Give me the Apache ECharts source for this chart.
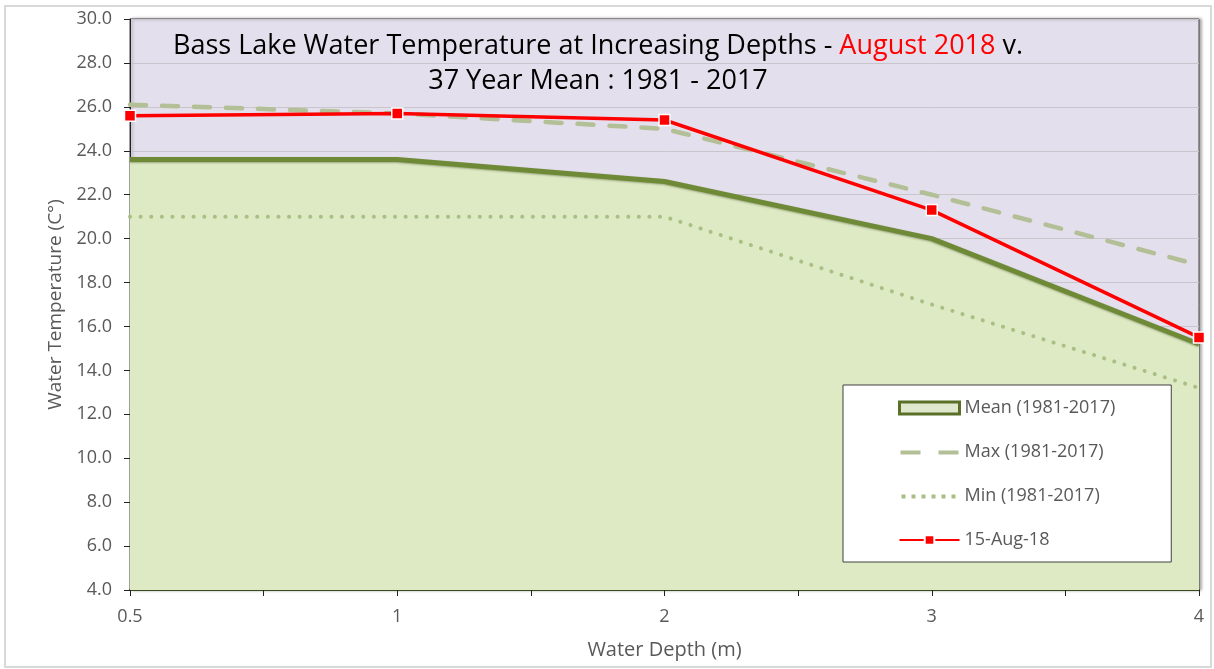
<!DOCTYPE html>
<html>
<head>
<meta charset="utf-8">
<script src="https://cdn.jsdelivr.net/npm/echarts@6/dist/echarts.min.js"></script>
<style>
  html, body { margin: 0; padding: 0; background: #fff; }
  #chart { width: 1214px; height: 669px; }
</style>
</head>
<body>
<div id="chart"></div>
<script>
// water depths (m), plotted at equal spacing
const depths = ["0.5", "1", "2", "3", "4"];
const meanTemp = [23.6, 23.6, 22.6, 20.0, 15.2];
const maxTemp = [26.1, 25.7, 25.0, 22.0, 18.8];
const minTemp = [21.0, 21.0, 21.0, 17.0, 13.2];
const aug2018 = [25.6, 25.7, 25.4, 21.3, 15.5];
const yTicks = { min: 4, max: 30, interval: 2 };

const font = "'Open Sans', sans-serif";
const grey = "#595959";

function pts(arr) {
  return arr.map((v, i) => [i, v]);
}

// legend icons drawn in a 60x12 box (corner moves keep the box size)
const dashIcon = "path://M0,0M60,12M1,4.5h20v4h-20zM39,4.5h20v4h-20z";
const dotIcon = "path://M0,0M60,12" +
  [2, 12, 22, 32, 42, 52].map(x => "M" + x + ",4.5h4v4h-4z").join("");

let myChart = echarts.init(document.getElementById("chart"));

let option = {
  backgroundColor: "#fff",
  textStyle: { fontFamily: font },
  graphic: [
    {
      type: "rect",
      shape: { x: 5, y: 6, width: 1206, height: 661 },
      style: { fill: "none", stroke: "#d9d9d9", lineWidth: 2 },
      silent: true
    }
  ],
  title: {
    text: "{a|Bass Lake Water Temperature at Increasing Depths - }{r|August 2018}{a| v.}\n{a|37 Year Mean : 1981 - 2017}",
    left: 593,
    top: 24,
    textAlign: "center",
    textStyle: {
      rich: {
        a: { fontSize: 27, color: "#000", fontFamily: font, fontWeight: "normal", lineHeight: 35 },
        r: { fontSize: 27, color: "#ff0000", fontFamily: font, fontWeight: "normal", lineHeight: 35 }
      }
    }
  },
  legend: {
    orient: "vertical",
    left: 843,
    top: 385,
    itemWidth: 60,
    itemHeight: 12,
    itemGap: 26,
    padding: [14, 56, 13, 55],
    backgroundColor: "#fff",
    borderColor: "#404040",
    borderWidth: 1,
    borderRadius: 0,
    textStyle: { color: grey, fontSize: 18, fontFamily: font },
    data: [
      {
        name: "Mean (1981-2017)",
        icon: "rect",
        itemStyle: { color: "#dfe8cc", borderColor: "#5a7028", borderWidth: 3 }
      },
      { name: "Max (1981-2017)", icon: dashIcon, itemStyle: { color: "#b3bf97" } },
      { name: "Min (1981-2017)", icon: dotIcon, itemStyle: { color: "#a9c085" } },
      { name: "15-Aug-18" }
    ]
  },
  grid: {
    left: 130,
    right: 15,
    top: 19,
    bottom: 79,
    show: true,
    backgroundColor: "#e4dfec",
    borderWidth: 1,
    borderColor: "#4a4a4a",
    shadowColor: "rgba(0,0,0,0.35)",
    shadowBlur: 3,
    shadowOffsetX: 2,
    shadowOffsetY: 0
  },
  xAxis: {
    type: "value",
    min: 0,
    max: depths.length - 1,
    interval: 0.5,
    name: "Water Depth (m)",
    nameLocation: "middle",
    nameGap: 50,
    nameTextStyle: { color: grey, fontSize: 20, fontFamily: font },
    axisLine: { show: true, lineStyle: { color: "#3a4a1c", width: 2 } },
    axisTick: { show: true, length: 6, lineStyle: { color: "#222" } },
    axisLabel: {
      color: grey,
      fontSize: 18,
      margin: 18,
      formatter: function (v) {
        return Number.isInteger(v) ? depths[v] : "";
      }
    },
    splitLine: { show: false }
  },
  yAxis: {
    type: "value",
    min: yTicks.min,
    max: yTicks.max,
    interval: yTicks.interval,
    name: "Water Temperature (C°)",
    nameLocation: "middle",
    nameGap: 62,
    nameTextStyle: { color: grey, fontSize: 19, fontFamily: font },
    axisLine: { show: true, lineStyle: { color: "#222", width: 1 } },
    axisTick: { show: true, length: 6, lineStyle: { color: "#222" } },
    axisLabel: {
      color: grey,
      fontSize: 18,
      margin: 18,
      formatter: function (v) {
        return v.toFixed(1);
      }
    },
    splitLine: { show: true, lineStyle: { color: "#c8c6cc", width: 1 } }
  },
  series: [
    {
      name: "Mean (1981-2017)",
      type: "line",
      data: pts(meanTemp),
      symbol: "none",
      z: 2,
      lineStyle: {
        color: "#6f8a36",
        width: 5,
        shadowColor: "rgba(60,70,30,0.4)",
        shadowBlur: 2,
        shadowOffsetY: 1
      },
      itemStyle: { color: "#6f8a36" },
      areaStyle: { color: "#deeac4", opacity: 1 }
    },
    {
      name: "Max (1981-2017)",
      type: "line",
      data: pts(maxTemp),
      symbol: "none",
      z: 3,
      lineStyle: { color: "#b3bf97", width: 4.5, type: [16, 16], cap: "round" },
      itemStyle: { color: "#b3bf97" }
    },
    {
      name: "Min (1981-2017)",
      type: "line",
      data: pts(minTemp),
      symbol: "none",
      z: 3,
      lineStyle: { color: "#a9c085", width: 4, type: [0.1, 10.5], cap: "round" },
      itemStyle: { color: "#a9c085" }
    },
    {
      name: "15-Aug-18",
      type: "line",
      data: pts(aug2018),
      symbol: "rect",
      symbolSize: 11,
      z: 4,
      lineStyle: { color: "#ff0000", width: 3.5 },
      itemStyle: { color: "#ff0000", borderColor: "#fff", borderWidth: 1.5 }
    }
  ]
};

myChart.setOption(option, true);
</script>
</body>
</html>
